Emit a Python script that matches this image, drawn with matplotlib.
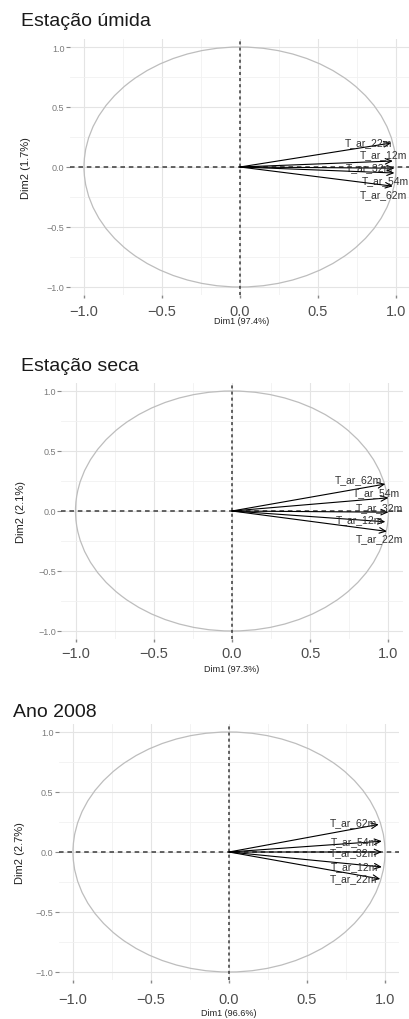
import matplotlib
matplotlib.use("Agg")
import matplotlib.pyplot as plt
from matplotlib.patches import Ellipse
import numpy as np

plt.rcParams['font.family'] = ['Liberation Sans', 'DejaVu Sans']

W, H = 409, 1020

# ---------------- data ----------------
titles = ["Estação úmida", "Estação seca", "Ano 2008"]
xlabels = ["Dim1 (97.4%)", "Dim1 (97.3%)", "Dim1 (96.6%)"]
ylabels = ["Dim2 (1.7%)", "Dim2 (2.1%)", "Dim2 (2.7%)"]

vars_wet = ["T_ar_22m", "T_ar_12m", "T_ar_32m", "T_ar_54m", "T_ar_62m"]
dim1_wet = [0.97, 0.98, 0.99, 0.99, 0.98]
dim2_wet = [0.20, 0.05, -0.01, -0.05, -0.16]

vars_dry = ["T_ar_62m", "T_ar_54m", "T_ar_32m", "T_ar_12m", "T_ar_22m"]
dim1_dry = [0.98, 1.00, 1.00, 0.98, 0.99]
dim2_dry = [0.225, 0.11, -0.01, -0.09, -0.17]

vars_2008 = ["T_ar_62m", "T_ar_54m", "T_ar_32m", "T_ar_12m", "T_ar_22m"]
dim1_2008 = [0.96, 0.98, 0.98, 0.98, 0.97]
dim2_2008 = [0.23, 0.09, 0.00, -0.125, -0.225]

tick_values = [-1.0, -0.5, 0.0, 0.5, 1.0]
minor_values = [-0.75, -0.25, 0.25, 0.75]
tick_labels = ["\u22121.0", "\u22120.5", "0.0", "0.5", "1.0"]

# ---------------- layout (pixels) ----------------
# (x of 0, px per unit x, y of 0, px per unit y)
geom = [(240, 156, 168, 120), (232, 156.5, 512, 120), (229, 156, 853, 120)]
XL, YL = 1.09, 1.07
# label offsets in pixels relative to arrow tip: (dx, dy, ha)
label_off = [
    [(1, 1, 'right'), (-9, 7, 'center'), (-1, 1, 'right'), (-9, -7, 'center'), (-9, -8, 'center')],
    [(-3, 5, 'right'), (-12, 6, 'center'), (-9, 5, 'center'), (-2, 3, 'right'), (-7, -7, 'center')],
    [(-2, 2, 'right'), (-4, 0, 'right'), (-5, 0, 'right'), (-4, 1, 'right'), (-3, 1, 'right')],
]
title_pos = [(21, 26), (21, 371), (13, 717)]
ylab_pos = [(26, 168), (21, 512), (20, 853)]
xlab_pos = [(242, 322), (232, 670), (229, 1014)]
xpad = [4.5, 3.0, 6.0]

panels = [(vars_wet, dim1_wet, dim2_wet),
          (vars_dry, dim1_dry, dim2_dry),
          (vars_2008, dim1_2008, dim2_2008)]

fig = plt.figure(figsize=(W / 100, H / 100), dpi=100)

for i, (names, d1, d2) in enumerate(panels):
    x0, sx, y0, sy = geom[i]
    left = (x0 - XL * sx) / W
    width = 2 * XL * sx / W
    bottom = 1 - (y0 + YL * sy) / H
    height = 2 * YL * sy / H
    ax = fig.add_axes([left, bottom, width, height])
    ax.set_xlim(-XL, XL)
    ax.set_ylim(-YL, YL)
    for s in ax.spines.values():
        s.set_visible(False)
    ax.set_xticks(tick_values)
    ax.set_xticklabels(tick_labels)
    ax.set_yticks(tick_values)
    ax.set_yticklabels(tick_labels)
    ax.set_xticks(minor_values, minor=True)
    ax.set_yticks(minor_values, minor=True)
    ax.grid(True, which='major', color='#e4e4e4', lw=0.8)
    ax.grid(True, which='minor', color='#f1f1f1', lw=0.6)
    ax.set_axisbelow(True)
    ax.tick_params(axis='x', which='major', length=2, width=1.0, color='#888888',
                   labelsize=10.5, labelcolor='#4d4d4d', pad=xpad[i])
    ax.tick_params(axis='y', which='major', length=3, width=0.8, color='#888888',
                   labelsize=6.5, labelcolor='#7a7a7a', pad=1)
    ax.tick_params(which='minor', length=0)

    circ = Ellipse((0, 0), 2, 2, fill=False, ec='#bdbdbd', lw=0.9)
    ax.add_patch(circ)
    ax.axhline(0, color='#3a3a3a', lw=1.1, ls=(0, (3, 2.5)))
    ax.axvline(0, color='#3a3a3a', lw=1.1, ls=(0, (2, 2)))

    for j, (n, a, b) in enumerate(zip(names, d1, d2)):
        ax.annotate('', xy=(a, b), xytext=(0, 0),
                    arrowprops=dict(arrowstyle='->,head_length=0.45,head_width=0.2',
                                    color='black', lw=0.8, shrinkA=0, shrinkB=0))
        dx, dy, ha = label_off[i][j]
        ax.annotate(n, xy=(a, b), xytext=(dx, dy), textcoords='offset pixels',
                    ha=ha, va='center', fontsize=7.5, color='#333333')

    tx, ty = title_pos[i]
    fig.text(tx / W, 1 - ty / H, titles[i], fontsize=14, color='#1a1a1a',
             ha='left', va='baseline')
    lx, ly = ylab_pos[i]
    fig.text(lx / W, 1 - ly / H, ylabels[i], fontsize=8, rotation=90,
             ha='center', va='center', color='#222222')
    mx, my = xlab_pos[i]
    fig.text(mx / W, 1 - my / H, xlabels[i], fontsize=6.5,
             ha='center', va='center', color='#222222')

fig.savefig('out.png', dpi=100, facecolor='white')
